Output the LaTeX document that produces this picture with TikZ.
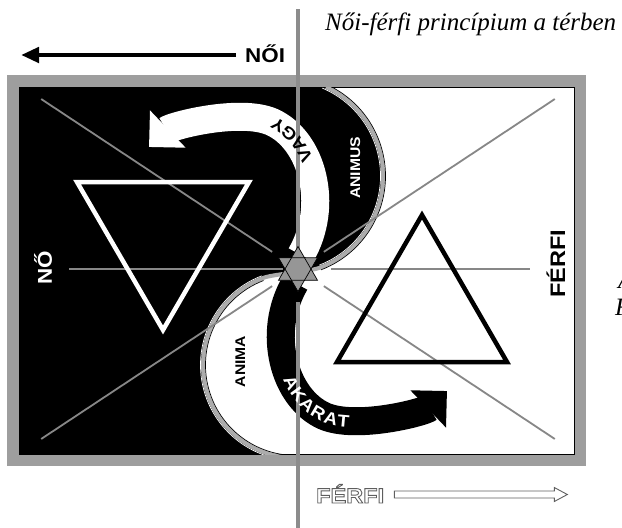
\documentclass[tikz,border=0pt]{standalone}
\usepackage{fontspec}
\setmainfont{Liberation Serif}
\newfontfamily\labelfont[FakeStretch=1.12]{Liberation Sans}
\usetikzlibrary{arrows.meta,decorations.text}

\definecolor{frameg}{RGB}{158,158,158}
\definecolor{lineg}{RGB}{135,135,135}
\definecolor{axisg}{RGB}{140,140,140}
\definecolor{bandg}{RGB}{172,172,172}
\definecolor{starg}{RGB}{150,150,150}
\definecolor{outg}{RGB}{95,95,95}

% hollow letters: stroke only
\newcommand{\hollowtext}[1]{\special{pdf:literal direct 1 Tr 0.9 w 0.37 G}#1\special{pdf:literal direct 0 Tr}}

\begin{document}
\begin{tikzpicture}[x=1pt,y=-1pt,
    guide/.style={draw=lineg,line width=1.8pt},
    axisline/.style={draw=axisg,line width=4.5pt},
    sband/.style={draw=bandg,line width=4pt},
    rimdark/.style={draw=black,line width=0.7pt},
    rimlight/.style={draw=white,line width=0.7pt},
    tri/.style={line width=4.5pt,line join=miter},
    bigarrow/.style={line width=28pt,-{Triangle[length=26pt,width=50pt]}},
    pointer/.style={line width=4.5pt,-{Triangle[length=18pt,width=15pt]}},
    hollow/.style={draw=outg,fill=white,line width=0.9pt},
    caps/.style={font=\labelfont\bfseries\fontsize{#1}{#1}\selectfont,inner sep=0pt},
    italic/.style={anchor=base west,inner sep=0pt,font=\itshape\fontsize{25}{25}\selectfont},
]
\useasboundingbox (0,0) rectangle (622,528);
\clip (0,0) rectangle (622,528);

\coordinate (C) at (298,269);
\coordinate (U) at (285,176);
\coordinate (L) at (296,365);

% ===== Frame =====
\fill[frameg] (7,75) rectangle (586,466);
\draw[fill=white,line width=0.8pt] (19,87) rectangle (574,454);

% ===== Black half with the S boundary =====
\begin{scope}
    \clip (19,87) rectangle (574,454);
    \fill[black] (19,87) -- (326,87) arc[start angle=-65.3,end angle=70,radius=98]
        .. controls (309.1,271.5) and (273.6,274.2) .. (264.2,277.6)
        arc[start angle=250,end angle=95,radius=93] -- (19,460) -- cycle;
    \draw[rimlight] (U) ++(-67:95.5) arc[start angle=-67,end angle=69,radius=95.5];
    \draw[rimlight] (L) ++(249:95.5) arc[start angle=249,end angle=95,radius=95.5];
    \draw[sband] (326,87) arc[start angle=-65.3,end angle=70,radius=98]
        .. controls (309.1,271.5) and (273.6,274.2) .. (264.2,277.6)
        arc[start angle=250,end angle=95,radius=93];
    \draw[rimdark] (U) ++(-64:100.5) arc[start angle=-64,end angle=69,radius=100.5];
    \draw[rimdark] (L) ++(249:90.5) arc[start angle=249,end angle=90,radius=90.5];
\end{scope}

% ===== Guide lines =====
\foreach \ang in {33.5,146.5,213.5,326.5}
    \draw[guide] (C) ++(\ang:31) -- ++(\ang:277);
\draw[guide] (C) ++(0:33) -- ++(0:199);
\draw[guide] (C) ++(180:15) -- ++(180:214);

% ===== Triangles =====
\draw[tri,white] (77,182) -- (249,182) -- (163,330) -- cycle;
\draw[tri,black] (337,362) -- (507,362) -- (422,215) -- cycle;

% ===== Curved arrows =====
\foreach \ang/\col in {0/white,180/black} {
    \begin{scope}[rotate around={\ang:(C)}]
        \draw[bigarrow,color=\col] (301,255) .. controls (330,205) and (312,140) .. (272,122)
            .. controls (240,108) and (171,126) .. (149,147);
    \end{scope}
}

% ===== Vertical axis =====
\draw[axisline] (298,9) -- (298,252);
\draw[axisline] (298,302) -- (298,528);

% words along the arrows
\foreach \ang/\txt/\word in {0/black/VAGY,180/white/AKARAT} {
    \begin{scope}[rotate around={\ang:(C)}]
        \path[decorate,decoration={text along path,text={|\labelfont\bfseries\fontsize{17}{17}\selectfont|\word},
            text color=\txt,text align={left indent=97pt},raise=-6pt}]
            (301,255) .. controls (330,205) and (312,140) .. (272,122)
            .. controls (240,108) and (171,126) .. (149,147);
    \end{scope}
}

% ===== Star =====
\foreach \s in {-90,90}
    \fill[starg] (C) +(\s:22.5) -- +(\s+120:22.5) -- +(\s+240:22.5) -- cycle;
\foreach \s in {-90,90}
    \draw[line width=0.7pt] (C) +(\s:22.5) -- +(\s+120:22.5) -- +(\s+240:22.5) -- cycle;

% ===== Labels =====
\node[italic] (title) at (325,30) {Női-férfi princípium a térben};
\node[caps=20,anchor=base west] (noi) at (245,62.7) {NŐI};
\coordinate (noitip) at (21,55);
\draw[pointer] ([shift={(-9,-7.7)}]noi.base west) -- (noitip);

\node[caps=20,white,rotate=90,anchor=base] (no) at (52,267.5) {NŐ};
\node[caps=21,rotate=90,anchor=base] (ferfi) at (565,263.5) {FÉRFI};
\node[caps=14,white,rotate=90,anchor=base] (animus) at (360,168) {ANIMUS};
\node[caps=14,rotate=90,anchor=base] (anima) at (245,361.5) {ANIMA};

\node[caps=21,anchor=base west] (ferfiout) at (316,503) {\hollowtext{FÉRFI}};
\draw[hollow] ([shift={(10,-8.5)}]ferfiout.base east) ++(0,-3.5) -- ++(160,0) -- ++(0,-3.5)
    -- ++(13,7) -- ++(-13,7) -- ++(0,-3.5) -- ++(-160,0) -- cycle;

\node[italic] (sideA) at (618,288) {A};
\node[italic] (sideF) at (615,315) {F};
\end{tikzpicture}
\end{document}
